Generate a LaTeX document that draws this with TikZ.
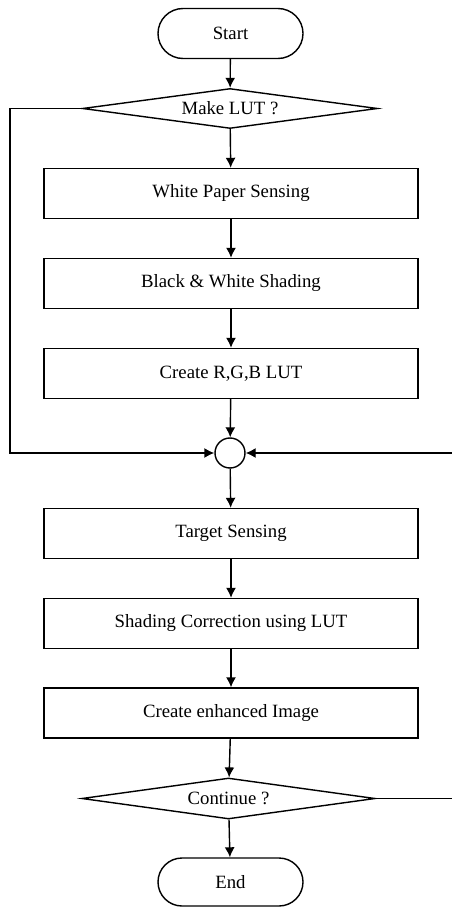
\documentclass[tikz,border=0pt]{standalone}
\usepackage{fontspec}
\setmainfont{Liberation Serif}
\usetikzlibrary{arrows,arrows.meta,shapes,positioning}

\begin{document}
\begin{tikzpicture}[x=0.03cm, y=-0.03cm, line width=1.2pt, >={Latex[length=3mm,width=3mm]},
  every node/.style={font=\fontsize{16}{19}\selectfont},
  stepbox/.style={draw, rectangle, minimum width=11.22cm, minimum height=1.5cm, inner sep=0pt},
  terminal/.style={draw, rectangle, rounded corners=0.75cm, minimum width=4.35cm, minimum height=1.5cm, inner sep=0pt},
  decision/.style={draw, diamond, shape aspect=7.5, inner sep=0pt, minimum width=8.85cm, minimum height=1.2cm},
  merge/.style={draw, circle, minimum size=0.9cm, inner sep=0pt}]
\useasboundingbox (0,0) rectangle (451,908);

\node [terminal] (start) at (230.5,33.5) {Start};
\node [decision] (lut) at (230,108.5) {Make LUT ?};
\node [stepbox] (paper) at (231,193.5) {White Paper Sensing};
\node [stepbox] (shade) at (231,283.5) {Black \& White Shading};
\node [stepbox] (rgb) at (231,373.5) {Create R,G,B LUT};
\node [merge] (join) at (230,453) {};
\node [stepbox] (target) at (231,533.5) {Target Sensing};
\node [stepbox] (correct) at (231,623.5) {Shading Correction using LUT};
\node [stepbox] (image) at (231,713) {Create enhanced Image};
\node [decision, minimum width=8.8cm, minimum height=1.23cm] (cont) at (228.5,798.5) {Continue ?};
\node [terminal, minimum height=1.44cm, rounded corners=0.72cm] (end) at (230.5,882) {End};

\coordinate (leftrail) at (10,108.5);
\coordinate (rightrail) at (453,798.5);

\draw [->] (start) -- (lut);
\draw [->] (lut) -- (paper);
\draw [->] (paper) -- (shade);
\draw [->] (shade) -- (rgb);
\draw [->] (rgb) -- (join);
\draw [->] (join) -- (target);
\draw [->] (target) -- (correct);
\draw [->] (correct) -- (image);
\draw [->] (image) -- (cont);
\draw [->] (cont) -- (end);

% loops into the merge point
\draw [->] (lut.west) -- (leftrail) |- (join.west);
\draw [->] (cont.east) -- (rightrail) |- (join.east);
\end{tikzpicture}
\end{document}
